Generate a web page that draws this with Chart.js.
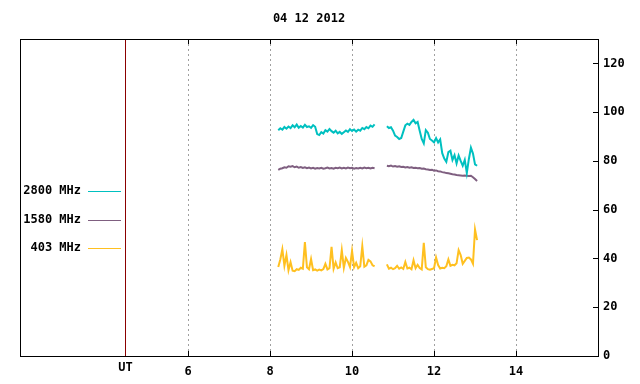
<!DOCTYPE html>
<html>
<head>
<meta charset="utf-8">
<title>04 12 2012</title>
<script src="https://cdn.jsdelivr.net/npm/chart.js@4.4.1/dist/chart.umd.min.js"></script>
<style>
    html, body { margin: 0; padding: 0; background: #fff; }
    canvas { display: block; }
</style>
</head>
<body>
<canvas id="chart" width="640" height="384"></canvas>
<script>
// Chart data
const chartTitle = '04 12 2012';
const utHour = 4.47;
const xTicks = [6, 8, 10, 12, 14];
const yTicks = [0, 20, 40, 60, 80, 100, 120];
const seriesLabels = ['2800 MHz', '1580 MHz', '403 MHz'];
const seriesColors = ['#00c0c0', '#7f5f80', '#ffc020'];

// Two observing runs (UT hours)
const seg1Hours = [8.20, 8.25, 8.30, 8.35, 8.40, 8.45, 8.50, 8.55, 8.60, 8.65, 8.70, 8.75,
    8.80, 8.85, 8.90, 8.95, 9.00, 9.05, 9.10, 9.15, 9.20, 9.25, 9.30, 9.35,
    9.40, 9.45, 9.50, 9.55, 9.60, 9.65, 9.70, 9.75, 9.80, 9.85, 9.90, 9.95,
    10.00, 10.05, 10.10, 10.15, 10.20, 10.25, 10.30, 10.35, 10.40, 10.45, 10.50, 10.55];
const seg2Hours = [10.85, 10.90, 10.95, 11.00, 11.05, 11.10, 11.15, 11.20, 11.25, 11.30, 11.35, 11.40,
    11.45, 11.50, 11.55, 11.60, 11.65, 11.70, 11.75, 11.80, 11.85, 11.90, 11.95, 12.00,
    12.05, 12.10, 12.15, 12.20, 12.25, 12.30, 12.35, 12.40, 12.45, 12.50, 12.55, 12.60,
    12.65, 12.70, 12.75, 12.80, 12.85, 12.90, 12.95, 13.00, 13.05];

const flux2800a = [92.6, 93.4, 92.8, 93.9, 93.2, 94.1, 93.5, 94.6, 93.8, 94.9, 93.6, 94.3,
    93.7, 94.8, 93.9, 94.2, 93.6, 94.7, 94.0, 91.0, 90.6, 91.8, 91.2, 92.6,
    92.0, 93.1, 92.2, 91.6, 92.4, 91.3, 91.9, 91.1, 91.8, 92.5, 91.9, 93.0,
    92.3, 92.9, 92.0, 92.8, 92.4, 93.5, 93.0, 93.9, 93.4, 94.5, 94.0, 95.0];
const flux2800b = [94.2, 93.5, 93.8, 92.4, 90.4, 89.8, 89.0, 89.4, 92.0, 94.6, 95.3, 94.8,
    96.0, 96.8, 95.4, 96.0, 92.4, 89.0, 87.2, 92.6, 91.6, 89.0, 88.4, 87.6,
    89.4, 87.6, 88.8, 83.2, 81.0, 79.6, 83.6, 84.2, 80.4, 82.4, 79.0, 82.2,
    80.0, 78.0, 80.4, 75.0, 80.8, 85.4, 83.0, 78.6, 78.0];

const flux1580a = [76.3, 76.8, 77.0, 77.4, 77.2, 77.8, 77.6, 77.9, 77.4, 77.7, 77.2, 77.5,
    77.1, 77.4, 77.0, 77.3, 76.9, 77.2, 76.8, 77.1, 76.9, 77.2, 76.8, 77.0,
    77.3, 76.9, 77.1, 76.8, 77.2, 77.0, 77.3, 76.9, 77.2, 76.9, 77.3, 77.0,
    77.2, 76.8, 77.1, 76.9, 77.2, 76.9, 77.3, 77.0, 77.2, 76.9, 77.2, 77.0];
const flux1580b = [78.0, 77.8, 78.1, 77.7, 77.9, 77.6, 77.8, 77.5, 77.6, 77.3, 77.5, 77.2,
    77.4, 77.1, 77.2, 77.0, 77.1, 76.8, 76.9, 76.6, 76.5, 76.3, 76.4, 76.0,
    76.1, 75.8, 75.7, 75.4, 75.3, 75.0, 74.9, 74.7, 74.5, 74.4, 74.2, 74.1,
    74.0, 73.9, 74.0, 73.9, 73.8, 73.9, 73.3, 72.6, 71.8];

const flux403a = [36.5, 39.6, 43.8, 37.0, 41.4, 35.2, 38.5, 35.0, 34.8, 35.6, 35.3, 36.2,
    35.8, 46.7, 36.4, 35.6, 39.8, 35.2, 35.5, 35.0, 35.4, 35.1, 35.6, 37.8,
    35.5, 36.0, 44.8, 35.8, 38.4, 36.0, 36.4, 43.4, 36.2, 40.2, 38.6, 36.5,
    43.1, 36.4, 38.2, 36.0, 36.8, 45.0, 36.6, 37.2, 39.4, 38.8, 37.2, 36.8];
const flux403b = [37.6, 35.8, 36.2, 35.6, 36.0, 37.0, 35.8, 36.3, 35.7, 38.6, 35.9, 36.2,
    35.6, 39.3, 36.0, 37.4, 36.1, 35.5, 46.4, 36.4, 35.6, 35.4, 35.7, 36.0,
    40.4, 37.3, 35.9, 36.2, 36.0, 36.8, 39.6, 37.0, 37.4, 37.2, 38.0, 43.4,
    41.4, 37.8, 39.0, 40.2, 40.4, 39.6, 37.8, 51.9, 47.5];

const FONT = '"DejaVu Sans Mono", "Liberation Mono", monospace';

// Join both runs, with a null point so the line breaks in the gap
function toPoints(valsA, valsB) {
    const pts = seg1Hours.map((h, i) => ({ x: h, y: valsA[i] }));
    pts.push({ x: 10.7, y: null });
    seg2Hours.forEach((h, i) => pts.push({ x: h, y: valsB[i] }));
    return pts;
}

const seriesData = [
    toPoints(flux2800a, flux2800b),
    toPoints(flux1580a, flux1580b),
    toPoints(flux403a, flux403b)
];

// Frame, inside ticks, UT marker, legend and title
const framePlugin = {
    id: 'frame',
    afterDatasetsDraw(chart) {
        const ctx = chart.ctx;
        const { left, right, top, bottom } = chart.chartArea;
        const xs = chart.scales.x;
        const ys = chart.scales.y;
        ctx.save();
        ctx.lineWidth = 1;

        // UT marker line
        const ux = Math.round(xs.getPixelForValue(utHour)) + 0.5;
        ctx.strokeStyle = '#8b0000';
        ctx.beginPath();
        ctx.moveTo(ux, top);
        ctx.lineTo(ux, bottom);
        ctx.stroke();

        // Border
        ctx.strokeStyle = '#000';
        ctx.strokeRect(left + 0.5, top + 0.5, right - left, bottom - top);

        // Inside ticks
        ctx.beginPath();
        xTicks.forEach(v => {
            const px = Math.round(xs.getPixelForValue(v)) + 0.5;
            ctx.moveTo(px, bottom);
            ctx.lineTo(px, bottom - 5);
            ctx.moveTo(px, top);
            ctx.lineTo(px, top + 5);
        });
        yTicks.forEach(v => {
            const py = Math.round(ys.getPixelForValue(v)) + 0.5;
            ctx.moveTo(right, py);
            ctx.lineTo(right - 5, py);
        });
        ctx.stroke();

        ctx.fillStyle = '#000';
        ctx.font = 'bold 12px ' + FONT;
        ctx.textBaseline = 'middle';

        // UT label
        ctx.textAlign = 'center';
        ctx.fillText('UT', ux, 368);

        // Title
        ctx.fillText(chartTitle, (left + right) / 2, 19);

        // Legend
        const legendY = [191, 219.5, 248];
        chart.data.datasets.forEach((ds, i) => {
            const y = legendY[i];
            ctx.fillStyle = '#000';
            ctx.textAlign = 'right';
            ctx.fillText(ds.label, 81, y);
            ctx.strokeStyle = ds.borderColor;
            ctx.beginPath();
            ctx.moveTo(88, Math.round(y) + 0.5);
            ctx.lineTo(121, Math.round(y) + 0.5);
            ctx.stroke();
        });
        ctx.restore();
    }
};

new Chart(document.getElementById('chart'), {
    type: 'line',
    data: {
        datasets: seriesLabels.map((label, i) => ({
            label: label,
            data: seriesData[i],
            borderColor: seriesColors[i],
            backgroundColor: seriesColors[i],
            borderWidth: 2,
            pointRadius: 0,
            tension: 0,
            spanGaps: false
        }))
    },
    options: {
        responsive: false,
        animation: false,
        devicePixelRatio: 1,
        layout: { padding: { left: 20, top: 39, right: 0, bottom: 0 } },
        plugins: {
            legend: { display: false },
            title: { display: false },
            tooltip: { enabled: false }
        },
        scales: {
            x: {
                type: 'linear',
                position: 'bottom',
                min: 1.9,
                max: 16,
                afterBuildTicks: scale => { scale.ticks = xTicks.map(v => ({ value: v })); },
                afterFit: scale => { scale.height = 28; },
                grid: { color: '#a0a0a0', drawTicks: false },
                border: { display: false, dash: [2, 3] },
                ticks: {
                    color: '#000',
                    padding: 9,
                    maxRotation: 0,
                    autoSkip: false,
                    font: { family: FONT, size: 12, weight: 'bold' }
                }
            },
            y: {
                type: 'linear',
                position: 'right',
                min: 0,
                max: 130,
                afterBuildTicks: scale => { scale.ticks = yTicks.map(v => ({ value: v })); },
                afterFit: scale => { scale.width = 42; },
                grid: { display: false, drawTicks: false },
                border: { display: false },
                ticks: {
                    color: '#000',
                    padding: 5,
                    font: { family: FONT, size: 12, weight: 'bold' }
                }
            }
        }
    },
    plugins: [framePlugin]
});
</script>
</body>
</html>
